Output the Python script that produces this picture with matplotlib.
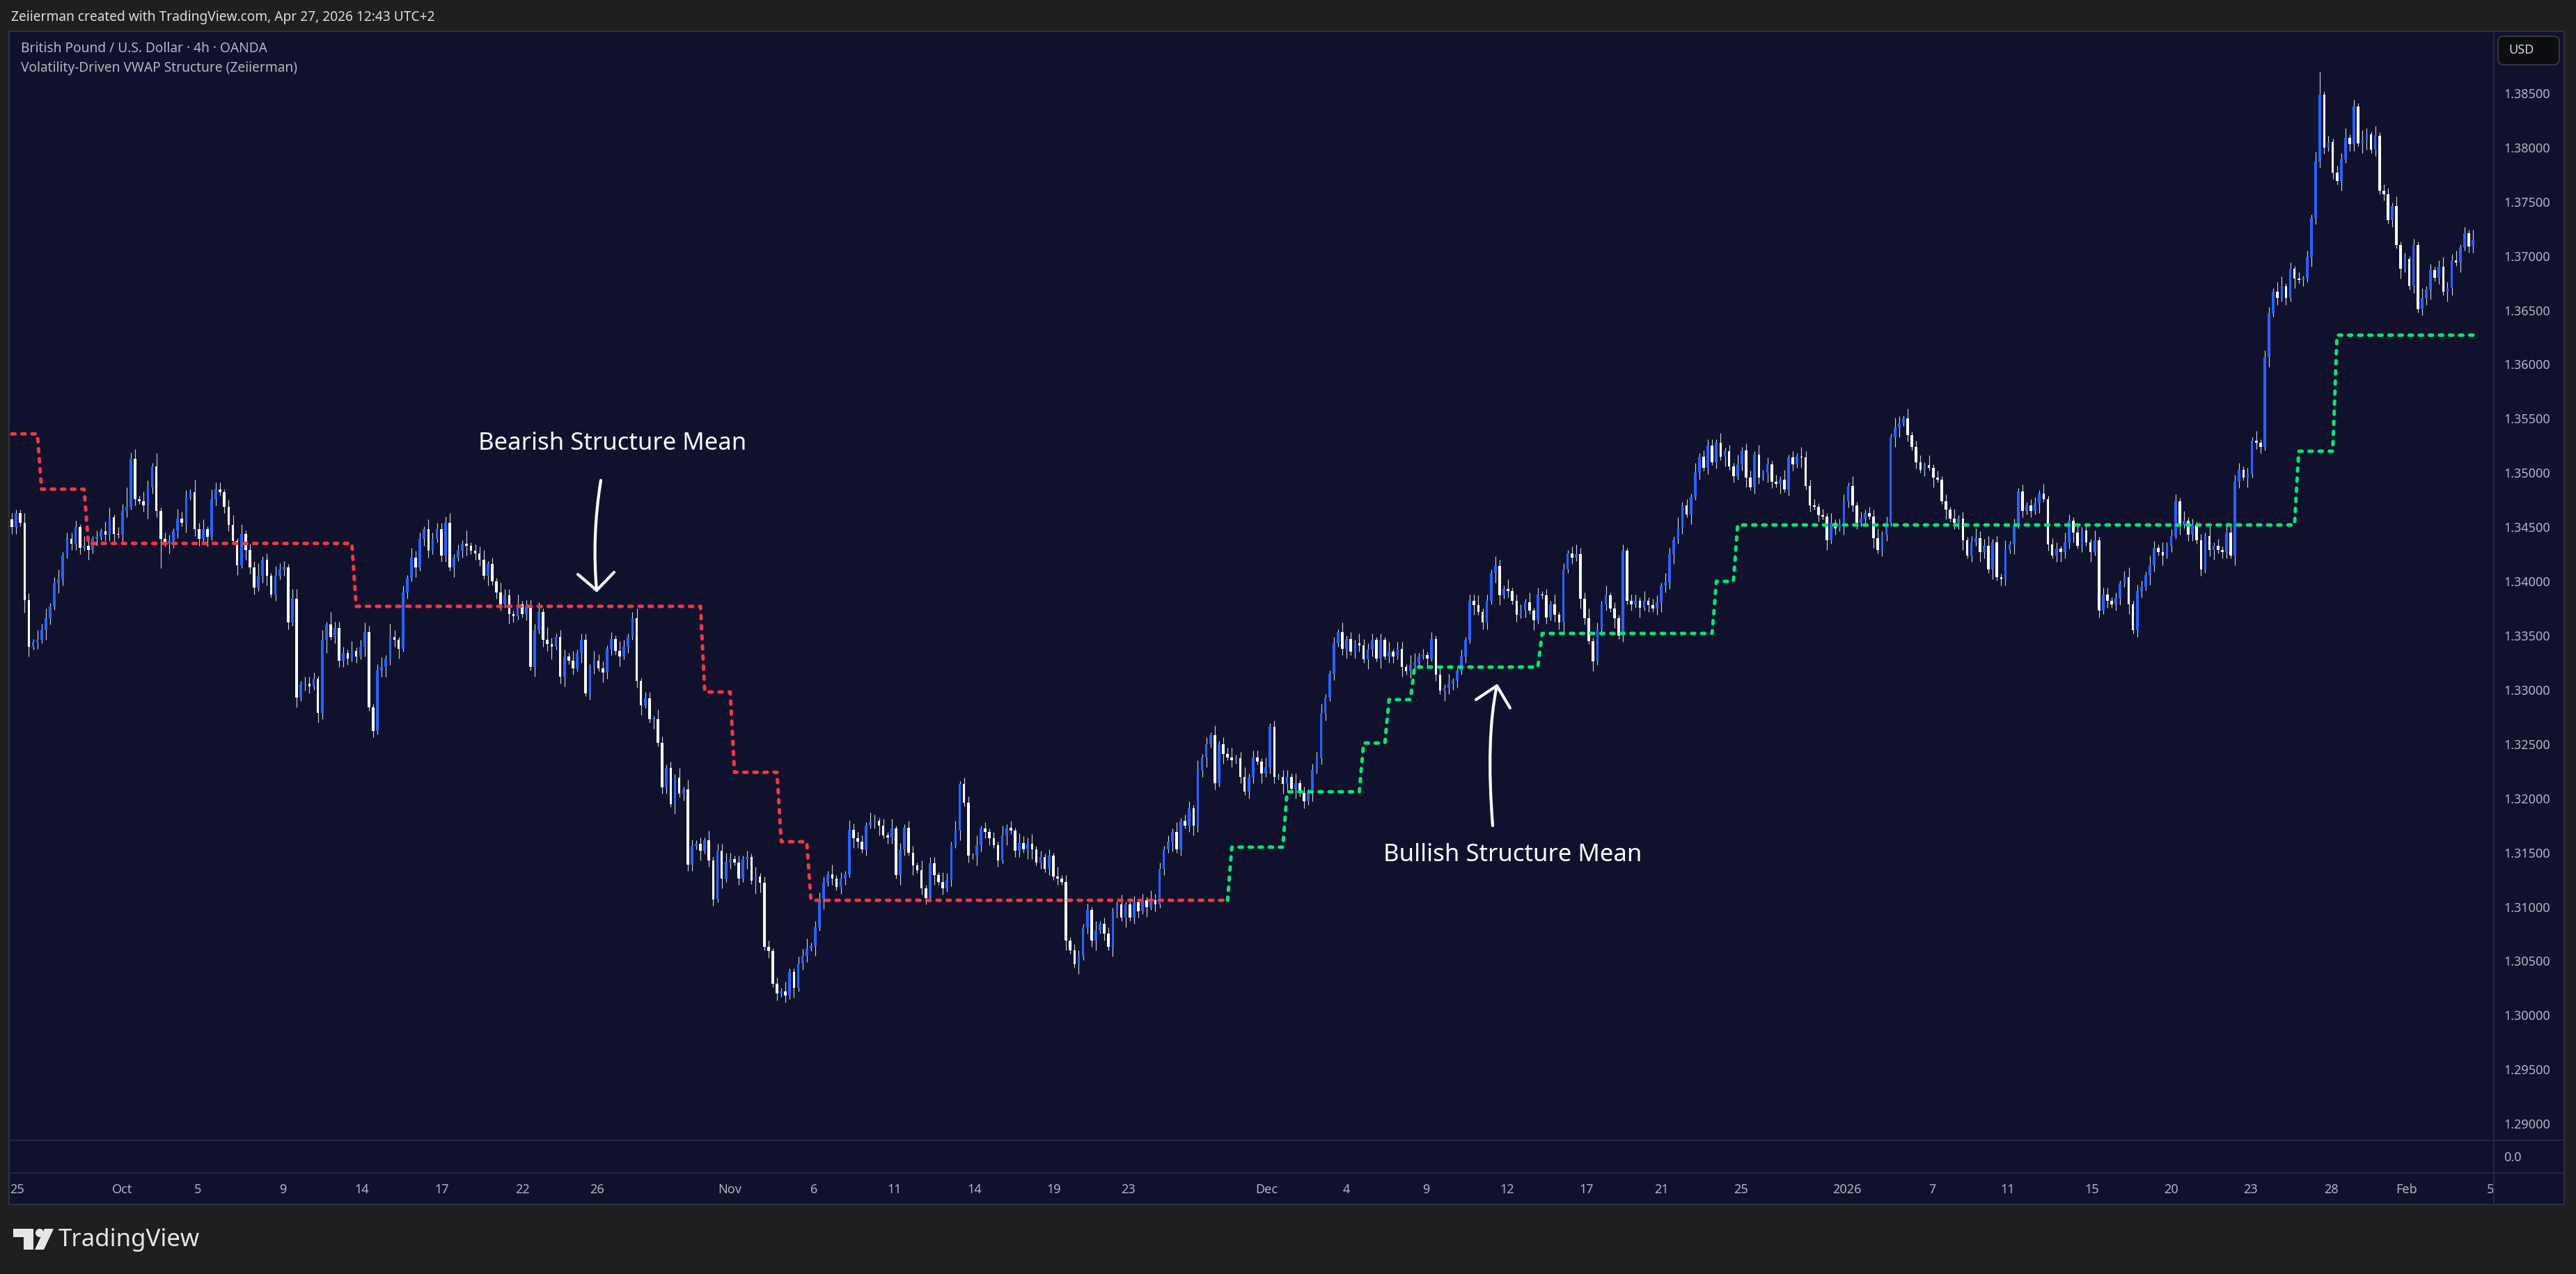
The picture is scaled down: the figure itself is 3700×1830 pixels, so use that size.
import numpy as np
import matplotlib
matplotlib.use("Agg")
import matplotlib.pyplot as plt
from matplotlib.patches import FancyBboxPatch, Rectangle, Polygon, PathPatch, Circle
from matplotlib.path import Path
from matplotlib.lines import Line2D
from matplotlib.transforms import IdentityTransform, blended_transform_factory

# ---- data --------------------------------------------------------------
# GBP/USD 4h closes, in pips above 1.30000 (Sep 25 -> Feb 5)
FIRST_OPEN = 457
CLOSE_SEP_NOV = [
    450, 463, 454, 383, 340, 344, 346, 355, 366, 377, 398, 402, 424, 439, 435, 450, 431, 433, 429, 439,
    441,
    446, 443, 459, 444, 443, 465, 469, 513, 476, 474, 470, 487, 506, 465, 439, 435, 437, 446, 458, 454,
    478, 482, 448, 439, 448, 441, 476, 485, 482, 469,
    452,
    437, 415, 444, 429, 413, 394, 405, 420, 405, 388, 405, 411, 413, 362, 384, 293, 305, 306, 303, 310,
    279, 346, 360, 349, 357, 327, 334, 329, 336, 331,
    340,
    353, 284, 262, 318, 321, 329, 349, 346, 338, 390, 403, 422, 413, 439, 448, 428, 439, 448, 424, 454,
    413, 422, 428, 435, 433, 428, 426, 420, 405, 416,
    400,
    390, 379, 387, 370, 368, 379, 370, 377, 321, 355, 372, 346, 342, 340, 349, 312, 331, 327, 320, 334,
    346, 297, 321, 327, 320, 316, 338, 347, 336, 331,
    340,
    349, 366, 308, 286, 292, 273, 273, 251, 210, 228, 195, 219, 204, 208, 139, 156, 158, 152, 161, 143,
    107, 152, 126, 141, 144, 141, 126, 144, 146, 124,
    128,
    122, 63, 59, 29, 20, 22, 18, 40, 25, 48, 55, 62, 64, 81, 107, 122, 130, 126, 118, 126, 130, 171, 163, 160,
]
CLOSE_NOV_DEC = [
    153, 175, 178, 179, 175, 166, 164, 172, 129, 153, 173, 150, 138, 134, 117, 108, 140, 129, 123, 117,
    125,
    157, 170, 213, 196, 147, 147, 157, 172, 169, 163, 157, 143, 166, 173, 170, 152, 159, 153, 158, 153,
    141, 146, 135, 147, 128,
    126,
    123, 69, 60, 47, 54, 81, 97, 69, 78, 84, 75, 63, 96, 102, 90, 102, 90, 104, 96, 106, 100, 106, 102, 135, 153,
    160,
    169, 153, 179, 175, 191, 175, 226, 238, 250, 258, 214, 250, 241, 238, 235, 237, 220, 206, 220, 238,
    234, 223, 229, 266, 220, 220, 213, 220, 209, 214,
    205,
    197, 206, 226, 237, 278, 293, 315, 343, 353, 338, 347, 335, 343, 341, 328, 337, 346, 329, 346, 331,
    335,
    331, 338, 321, 317, 323, 325, 331, 332, 329, 347, 314, 299, 302, 306, 308, 317, 331, 346, 382, 378,
    372,
    362, 382, 408, 414, 387, 393, 391, 382, 369, 373, 381, 373, 364, 388, 387, 367, 379, 369, 362, 411,
    426, 422, 425, 384, 366,
    345,
    326, 356, 379, 387, 375, 366, 350, 428, 382, 379, 382, 376, 382, 378, 375, 381, 396, 399, 425, 438,
    450,
    470, 462, 478, 500, 515, 505, 525, 510, 528, 515, 520,
]
CLOSE_DEC_FEB = [
    506, 497, 508, 521, 496, 487, 517, 496, 500, 508, 492, 490, 494, 485, 514, 508, 515, 514, 488, 470,
    469, 461, 460, 438, 454,
    449,
    452, 474, 488, 470, 454, 458, 463, 460, 440, 429, 443, 454, 533, 542, 546, 550, 535, 524, 510, 503,
    507, 505, 496, 494, 474,
    466,
    458, 454, 458, 438, 424, 436, 440, 427, 433, 411, 436, 404, 402, 429, 434, 452, 483, 465, 470, 465,
    472, 481, 476, 434, 424,
    430,
    427, 436, 456, 445, 433, 447, 436, 427, 438, 373, 388, 382, 379, 384, 398, 404, 379, 355, 391, 395,
    406, 415, 431, 427, 424,
    433,
    442, 474, 452, 456, 443, 452, 438, 411, 442, 429, 433, 429, 427, 445, 424, 492, 503, 496, 499, 530,
    528,
    524, 607, 647, 667, 661, 672, 661, 688, 679, 678, 679, 699, 735, 787, 849, 800, 805, 777, 769, 789,
    809, 803, 838, 804, 807,
    812,
    798, 811, 760, 757, 733, 746, 710, 688, 697, 672, 710, 651, 661, 669, 687,
    680,
    690, 667, 670, 696, 694, 708, 721, 709, 715,
]
# wick lengths, one digit per candle, 1 unit = 3 pips
UPPER_WICK = (
    "2113213231 2312221321 2133122623 1321412213 2214231322 1231312241 2132213312 2213142221 3123212314 2121322132 "
    "2223121412 2312132213 1222314212 2131221322 1213212312 2132121313 2121312232 1212131221 2131122312 2213121322 "
    "2132121312 1221312213 2131221312 1213121322 3121213121 2212131221 1312212132 2121312213 1213122312 3122131212 "
    "2131212231 1213121322 2121312213 3121212131 1212231213 2131221312 1213121232 2312131212 1221312213 2131213122 2131 "
    "2131221312 1213121322 2121312213 1212231213 2131221312 1213121232 2312131212 1221312213 2131213122 1212312213 "
    "2131221312 1213121322 2121312213 3121212137 1212231213 2131221312 1213121232 231213"
)
LOWER_WICK = (
    "2214312132 1321222131 2122313212 1242291322 1312213121 2213132212 3121221312 2132412222 1213121232 2312131221 "
    "1221312312 2131221321 1213122412 3121312213 2213121231 1312213122 2131221312 1213143121 2121312213 1312122132 "
    "1212312213 2131221312 1213121322 2121312213 3121212131 1312231213 2131221312 1213121232 2312131212 1221312213 "
    "2131213122 1212312213 2131221312 1213121322 2121312213 3121212131 1212231213 2131221312 1213121232 2312131212 1213 "
    "1212312213 2131221312 1213121322 2121312213 3121212131 1312231213 2131221312 1213121232 2312131212 1221312213 "
    "2131213122 1212312213 2131221312 1213121322 2121312213 3121212131 1212231213 213122"
)

# structure means (price level, number of candles it holds)
BEAR_LEVELS = [1.3536, 1.3485, 1.3435, 1.3377, 1.3298, 1.3224, 1.3160, 1.3106]
BEAR_COUNTS = [7, 11, 63, 82, 7, 11, 7, 99]
BULL_LEVELS = [1.3155, 1.3206, 1.3251, 1.3291, 1.3321, 1.3352, 1.3400, 1.3452, 1.3520, 1.3627]
BULL_COUNTS = [13, 18, 6, 6, 30, 41, 5, 132, 9, 33]

PRICE_TICKS = [1.290, 1.295, 1.300, 1.305, 1.310, 1.315, 1.320, 1.325, 1.330, 1.335,
               1.340, 1.345, 1.350, 1.355, 1.360, 1.365, 1.370, 1.375, 1.380, 1.385]
TIME_LABELS = ["25", "Oct", "5", "9", "14", "17", "22", "26", "Nov", "6", "11", "14", "19", "23",
               "Dec", "4", "9", "12", "17", "21", "25", "2026", "7", "11", "15", "20", "23", "28", "Feb", "5"]
TIME_POS = [1.3, 26.0, 43.7, 63.7, 82.4, 101.2, 120.1, 137.6, 168.9, 188.7, 207.7, 226.4, 245.2, 262.7,
            295.2, 314.0, 332.7, 351.7, 370.4, 388.0, 406.7, 431.8, 451.8, 469.5, 489.3, 508.0, 526.6,
            545.6, 563.3, 583.1]

# ---- style --------------------------------------------------------------
OUTER_BG = "#1f1f1f"
PANEL_BG = "#10122d"
LINE_COL = "#2b2e42"
TEXT_COL = "#b2b5be"
UP_COL = "#2962ff"
DOWN_COL = "#ffffff"
WICK_COL = "#d6d8e0"
BEAR_COL = "#f23645"
BULL_COL = "#00e676"

plt.rcParams["font.family"] = ["Noto Sans", "DejaVu Sans"]

W, H = 3700, 1830
PIX = IdentityTransform()


def fy(y):
    return H - y


def frac(x0, y0, x1, y1):
    return [x0 / W, 1 - y1 / H, (x1 - x0) / W, (y1 - y0) / H]


close = 1.3 + np.array(CLOSE_SEP_NOV + CLOSE_NOV_DEC + CLOSE_DEC_FEB) / 10000.0
opens = np.concatenate([[1.3 + FIRST_OPEN / 10000.0], close[:-1]])
up_w = np.array([int(c) for c in UPPER_WICK.replace(" ", "")]) * 0.0003
lo_w = np.array([int(c) for c in LOWER_WICK.replace(" ", "")]) * 0.0003
highs = np.maximum(opens, close) + up_w
lows = np.minimum(opens, close) - lo_w
x = np.arange(len(close))
rising = close >= opens

fig = plt.figure(figsize=(W / 100, H / 100), dpi=100, facecolor=OUTER_BG)

# chart panel
fig.add_artist(Rectangle((13, fy(1730)), 3670, 1685, transform=PIX,
                         facecolor=PANEL_BG, edgecolor="#34374a", lw=1.2, zorder=0))
for xs, ys in [([3582, 3582], [45, 1730]), ([13, 3683], [1638, 1638]), ([13, 3683], [1685, 1685])]:
    fig.add_artist(Line2D(xs, [fy(v) for v in ys], transform=PIX, color=LINE_COL, lw=1.1, zorder=1))

XLIM = (-0.66, 583.9)

ax = fig.add_axes(frac(13, 45, 3582, 1638))
ax.set_facecolor("none")
ax.set_xlim(*XLIM)
ax.set_ylim(1.28847, 1.39071)
for s in ax.spines.values():
    s.set_visible(False)
ax.set_xticks([])
ax.yaxis.tick_right()
ax.set_yticks(PRICE_TICKS)
ax.set_yticklabels([f"{p:.5f}" for p in PRICE_TICKS])
ax.tick_params(axis="y", length=0, pad=10.5, labelsize=13, labelcolor=TEXT_COL)

# candles
ax.vlines(x, lows, highs, color=WICK_COL, lw=0.8, zorder=2)
body_h = np.maximum(np.abs(close - opens), 0.00004)
ax.bar(x, body_h, bottom=np.minimum(opens, close), width=0.6,
       color=np.where(rising, UP_COL, DOWN_COL), linewidth=0, zorder=3)

# structure means
bear = np.repeat(BEAR_LEVELS, BEAR_COUNTS)
bull = np.concatenate([[bear[-1]], np.repeat(BULL_LEVELS, BULL_COUNTS)])
dash = dict(lw=3.6, dashes=(0.9, 2.0), dash_capstyle="round", solid_capstyle="round", zorder=4)
ax.plot(np.arange(len(bear)), bear, color=BEAR_COL, **dash)
ax.plot(np.arange(len(bear) - 1, len(bear) - 1 + len(bull)), bull, color=BULL_COL, **dash)

# empty volume pane with its 0.0 label
vax = fig.add_axes(frac(13, 1638, 3582, 1685))
vax.set_facecolor("none")
vax.set_xlim(*XLIM)
vax.set_ylim(-1, 1)
for s in vax.spines.values():
    s.set_visible(False)
vax.set_xticks([])
vax.yaxis.tick_right()
vax.set_yticks([0])
vax.set_yticklabels(["0.0"])
vax.tick_params(axis="y", length=0, pad=10.5, labelsize=13, labelcolor=TEXT_COL)

# time axis
tax = fig.add_axes(frac(13, 1685, 3582, 1730))
tax.set_facecolor("none")
tax.set_xlim(*XLIM)
tax.axis("off")
tr = blended_transform_factory(tax.transData, tax.transAxes)
for pos, lab in zip(TIME_POS, TIME_LABELS):
    tax.text(pos, 0.47, lab, transform=tr, ha="center", va="center", fontsize=13, color=TEXT_COL)

# header and legend texts
fig.text(16, fy(25), "Zeiierman created with TradingView.com, Apr 27, 2026 12:43 UTC+2",
         transform=PIX, va="center", fontsize=13.8, fontweight="medium", color="#d9dbe2")
fig.text(30, fy(70), "British Pound / U.S. Dollar \u00b7 4h \u00b7 OANDA",
         transform=PIX, va="center", fontsize=13.8, color=TEXT_COL)
fig.text(30, fy(98), "Volatility-Driven VWAP Structure (Zeiierman)",
         transform=PIX, va="center", fontsize=13.8, color=TEXT_COL)

# USD badge
fig.add_artist(FancyBboxPatch((3588, fy(93)), 88, 41, boxstyle="round,pad=0,rounding_size=8",
                              transform=PIX, facecolor="#0e0e10", edgecolor="#3a3d4c", lw=1.2, zorder=5))
fig.text(3603, fy(72), "USD", transform=PIX, va="center", fontsize=13, color="#d1d4dc", zorder=6)

# annotations
fig.text(880, fy(637), "Bearish Structure Mean", transform=PIX, ha="center", va="center",
         fontsize=25, fontweight="medium", color="white", zorder=6)
fig.text(2173, fy(1228), "Bullish Structure Mean", transform=PIX, ha="center", va="center",
         fontsize=25, fontweight="medium", color="white", zorder=6)

arrow_kw = dict(fill=False, edgecolor="white", lw=3.0, capstyle="round", joinstyle="round",
                transform=PIX, zorder=6)
C3, MV, LN = Path.CURVE3, Path.MOVETO, Path.LINETO
fig.add_artist(PathPatch(Path([(863, fy(690)), (850, fy(770)), (857, fy(848))], [MV, C3, C3]), **arrow_kw))
fig.add_artist(PathPatch(Path([(830, fy(825)), (857, fy(848)), (882, fy(822))], [MV, LN, LN]), **arrow_kw))
fig.add_artist(PathPatch(Path([(2144, fy(1186)), (2134, fy(1060)), (2150, fy(985))], [MV, C3, C3]), **arrow_kw))
fig.add_artist(PathPatch(Path([(2120, fy(1005)), (2150, fy(985)), (2169, fy(1017))], [MV, LN, LN]), **arrow_kw))

# TradingView logo
logo = "#e6e6e6"
fig.add_artist(Polygon([(19, fy(1765)), (48, fy(1765)), (48, fy(1795)), (34, fy(1795)),
                        (34, fy(1777)), (19, fy(1777))], closed=True, transform=PIX,
                       facecolor=logo, edgecolor="none"))
fig.add_artist(Circle((57, fy(1771)), 6, transform=PIX, facecolor=logo, edgecolor="none"))
fig.add_artist(Polygon([(64, fy(1765)), (77, fy(1765)), (63, fy(1795)), (50, fy(1795))],
                       closed=True, transform=PIX, facecolor=logo, edgecolor="none"))
fig.text(84, fy(1781), "TradingView", transform=PIX, va="center", fontsize=25,
         fontweight="bold", color=logo)

fig.savefig("out.png", dpi=100, facecolor=OUTER_BG)
